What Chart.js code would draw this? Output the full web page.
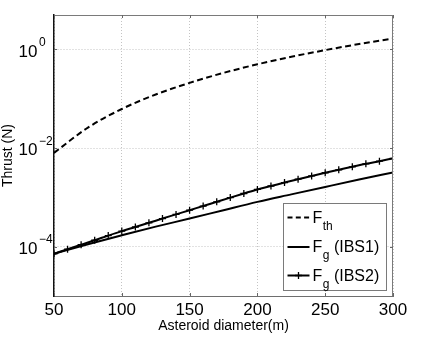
<!DOCTYPE html>
<html><head><meta charset="utf-8">
<script src="https://cdn.jsdelivr.net/npm/chart.js@4.4.0/dist/chart.umd.min.js"></script>
<style>html,body{margin:0;padding:0;background:#fff}canvas{display:block}</style>
</head><body>
<canvas id="c" width="436" height="346"></canvas>
<script>
const diamTh = [50,75,100,125,150,175,200,225,250,275,300];
const thrustTh = [0.0080,0.026,0.062,0.122,0.21,0.335,0.50,0.71,0.97,1.29,1.67];
const diamIBS1 = [50,75,100,125,150,175,200,225,250,275,300];
const thrustIBS1 = [7.2e-5,1.12e-4,1.70e-4,2.55e-4,3.72e-4,5.5e-4,8.1e-4,1.15e-3,1.63e-3,2.3e-3,3.2e-3];
const diamIBS2 = [50,60,70,80,90,100,110,120,130,140,150,160,170,180,190,200,210,220,230,240,250,260,270,280,290,300];
const thrustIBS2 = [7.2e-5,8.9e-5,1.10e-4,1.35e-4,1.68e-4,2.07e-4,2.51e-4,3.05e-4,3.72e-4,4.52e-4,5.50e-4,6.68e-4,8.13e-4,9.89e-4,1.20e-3,1.45e-3,1.70e-3,2.00e-3,2.34e-3,2.72e-3,3.16e-3,3.63e-3,4.17e-3,4.79e-3,5.43e-3,6.17e-3];
const xTicks = [50,100,150,200,250,300];
const yTicks = [1e-4,1e-2,1];
const yTickBase = ['10','10','10'];
const yTickExp = ['\u22124','\u22122','0'];
const legendMain = ['F','F','F'];
const legendSub = ['th','g','g'];
const legendRest = ['',' (IBS1)',' (IBS2)'];
const xTitle = 'Asteroid diameter(m)';
const yTitle = 'Thrust (N)';

const FONT = '"Liberation Sans", Arial, Helvetica, sans-serif';
const toPts = (xs, ys) => xs.map((x, i) => ({x: x, y: ys[i]}));

const framePlugin = {
  id: 'frame',
  afterDatasetsDraw(chart) {
    const ctx = chart.ctx, ca = chart.chartArea;
    const xs = chart.scales.x, ys = chart.scales.y;
    ctx.save();
    // top and right borders
    ctx.strokeStyle = '#7a7a7a'; ctx.lineWidth = 1; ctx.setLineDash([]);
    ctx.beginPath();
    ctx.moveTo(ca.left, Math.round(ca.top) + 0.5);
    ctx.lineTo(ca.right, Math.round(ca.top) + 0.5);
    ctx.moveTo(Math.round(ca.right) - 0.5, ca.top);
    ctx.lineTo(Math.round(ca.right) - 0.5, ca.bottom);
    ctx.stroke();
    // inward ticks
    ctx.strokeStyle = '#666';
    ctx.beginPath();
    xTicks.forEach(v => {
      const px = Math.round(xs.getPixelForValue(v)) + 0.5;
      ctx.moveTo(px, ca.bottom); ctx.lineTo(px, ca.bottom - 3);
      ctx.moveTo(px, ca.top); ctx.lineTo(px, ca.top + 3);
    });
    yTicks.forEach(v => {
      const py = Math.round(ys.getPixelForValue(v)) + 0.5;
      ctx.moveTo(ca.left, py); ctx.lineTo(ca.left + 3, py);
      ctx.moveTo(ca.right, py); ctx.lineTo(ca.right - 3, py);
    });
    ctx.stroke();

    // y tick labels: base "10" with superscript exponent
    ctx.fillStyle = '#000';
    ctx.textBaseline = 'alphabetic';
    yTicks.forEach((v, i) => {
      const py = ys.getPixelForValue(v);
      ctx.font = '17px ' + FONT; ctx.textAlign = 'right';
      ctx.fillText(yTickBase[i], ca.left - 16.5, py + 7.2);
      ctx.font = '12px ' + FONT; ctx.textAlign = 'left';
      ctx.fillText(yTickExp[i], ca.left - 15, py - 3.2);
    });

    // legend
    const L = Math.round(ca.right - 110) + 0.5, R = Math.round(ca.right - 7) + 0.5;
    const T = Math.round(ca.bottom - 93) + 0.5, B = Math.round(ca.bottom - 6) + 0.5;
    ctx.fillStyle = '#fff';
    ctx.fillRect(L, T, R - L, B - T);
    ctx.strokeStyle = '#7a7a7a'; ctx.lineWidth = 1;
    ctx.strokeRect(L, T, R - L, B - T);
    const rows = [T + 14, T + 43.5, T + 72];
    rows.forEach((ry, i) => {
      ctx.save();
      ctx.strokeStyle = '#000'; ctx.lineWidth = 2;
      ctx.setLineDash(i === 0 ? [5, 3.3] : []);
      ctx.beginPath(); ctx.moveTo(L + 4, ry); ctx.lineTo(L + 26, ry); ctx.stroke();
      ctx.setLineDash([]);
      if (i === 2) {
        ctx.lineWidth = 1.3;
        const cx = L + 15;
        ctx.beginPath();
        ctx.moveTo(cx, ry - 3.5); ctx.lineTo(cx, ry + 3.5);
        ctx.moveTo(cx - 3.5, ry); ctx.lineTo(cx + 3.5, ry);
        ctx.stroke();
      }
      ctx.restore();
      ctx.fillStyle = '#000';
      ctx.textBaseline = 'alphabetic'; ctx.textAlign = 'left';
      let tx = L + 29;
      ctx.font = '16px ' + FONT;
      ctx.fillText(legendMain[i], tx, ry + 5);
      tx += ctx.measureText(legendMain[i]).width + 0.5;
      ctx.font = '12px ' + FONT;
      ctx.fillText(legendSub[i], tx, ry + 12);
      tx += ctx.measureText(legendSub[i]).width;
      ctx.font = '16px ' + FONT;
      ctx.fillText(legendRest[i], tx, ry + 5);
    });
    ctx.restore();
  }
};

new Chart(document.getElementById('c'), {
  type: 'line',
  data: {
    datasets: [
      { label: 'F_th', data: toPts(diamTh, thrustTh), borderColor: '#000', borderWidth: 2,
        borderDash: [6, 3.5], pointRadius: 0, fill: false, cubicInterpolationMode: 'monotone' },
      { label: 'F_g (IBS1)', data: toPts(diamIBS1, thrustIBS1), borderColor: '#000', borderWidth: 2,
        pointRadius: 0, fill: false, cubicInterpolationMode: 'monotone' },
      { label: 'F_g (IBS2)', data: toPts(diamIBS2, thrustIBS2), borderColor: '#000', borderWidth: 2,
        pointStyle: 'cross', pointRadius: 3.5, pointBorderWidth: 1.3, pointBorderColor: '#000',
        pointBackgroundColor: '#000', fill: false, cubicInterpolationMode: 'monotone' }
    ]
  },
  options: {
    responsive: false, animation: false, devicePixelRatio: 1,
    layout: { padding: { left: 0, top: 15, right: 43, bottom: 0 } },
    plugins: { legend: { display: false }, tooltip: { enabled: false } },
    scales: {
      x: {
        type: 'linear', min: 50, max: 300,
        afterBuildTicks: s => { s.ticks = xTicks.map(v => ({ value: v })); },
        afterFit: s => { s.height = 50; },
        ticks: { font: { family: FONT, size: 17 }, color: '#000', padding: 4, maxRotation: 0,
                 callback: v => String(v) },
        grid: { color: '#c4c4c4', lineWidth: 1, drawTicks: false },
        border: { display: true, color: '#6e6e6e', width: 1, dash: [1, 2] },
        title: { display: true, text: xTitle, color: '#000', font: { family: FONT, size: 14 }, padding: { top: 0, bottom: 11 } }
      },
      y: {
        type: 'logarithmic', min: 1e-5, max: 5,
        afterBuildTicks: s => { s.ticks = yTicks.map(v => ({ value: v })); },
        afterFit: s => { s.width = 54; },
        ticks: { display: false },
        grid: { color: '#c4c4c4', lineWidth: 1, drawTicks: false },
        border: { display: true, color: '#111', width: 1.5, dash: [1, 2] },
        title: { display: true, text: yTitle, color: '#000', font: { family: FONT, size: 14 }, padding: { top: 0, bottom: 0 } }
      }
    }
  },
  plugins: [framePlugin]
});
</script>
</body></html>
